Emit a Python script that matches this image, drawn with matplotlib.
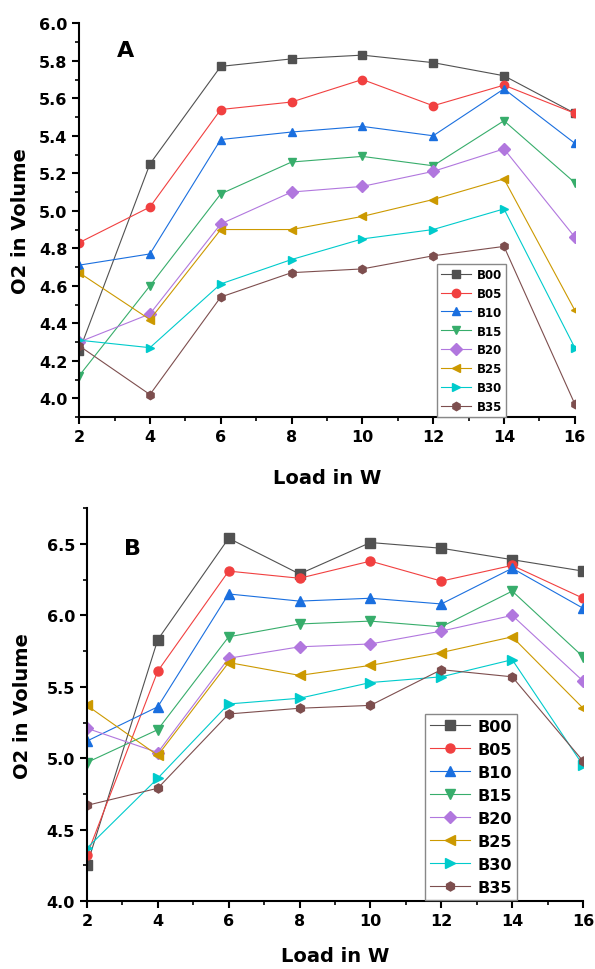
import numpy as np
import matplotlib
matplotlib.use("Agg")
import matplotlib.pyplot as plt
from matplotlib.ticker import MultipleLocator, FormatStrFormatter

plt.rcParams['font.family'] = ['DejaVu Sans']
plt.rcParams['font.weight'] = 'bold'

load = [2, 4, 6, 8, 10, 12, 14, 16]
names = ["B00", "B05", "B10", "B15", "B20", "B25", "B30", "B35"]
colors = ["#515151", "#F14040", "#1A6FDF", "#37AD6B", "#B177DE", "#CC9900", "#00CBCC", "#7D4E4E"]
markers = ["s", "o", "^", "v", "D", "<", ">", "h"]

# panel A
a_b00 = [4.25, 5.25, 5.77, 5.81, 5.83, 5.79, 5.72, 5.52]
a_b05 = [4.83, 5.02, 5.54, 5.58, 5.70, 5.56, 5.67, 5.52]
a_b10 = [4.71, 4.77, 5.38, 5.42, 5.45, 5.40, 5.65, 5.36]
a_b15 = [4.12, 4.60, 5.09, 5.26, 5.29, 5.24, 5.48, 5.15]
a_b20 = [4.30, 4.45, 4.93, 5.10, 5.13, 5.21, 5.33, 4.86]
a_b25 = [4.67, 4.42, 4.90, 4.90, 4.97, 5.06, 5.17, 4.47]
a_b30 = [4.31, 4.27, 4.61, 4.74, 4.85, 4.90, 5.01, 4.27]
a_b35 = [4.28, 4.02, 4.54, 4.67, 4.69, 4.76, 4.81, 3.97]

# panel B
b_b00 = [4.25, 5.83, 6.54, 6.29, 6.51, 6.47, 6.39, 6.31]
b_b05 = [4.32, 5.61, 6.31, 6.26, 6.38, 6.24, 6.35, 6.12]
b_b10 = [5.12, 5.36, 6.15, 6.10, 6.12, 6.08, 6.33, 6.05]
b_b15 = [4.97, 5.20, 5.85, 5.94, 5.96, 5.92, 6.17, 5.71]
b_b20 = [5.21, 5.04, 5.70, 5.78, 5.80, 5.89, 6.00, 5.54]
b_b25 = [5.37, 5.02, 5.67, 5.58, 5.65, 5.74, 5.85, 5.35]
b_b30 = [4.37, 4.86, 5.38, 5.42, 5.53, 5.57, 5.69, 4.95]
b_b35 = [4.67, 4.79, 5.31, 5.35, 5.37, 5.62, 5.57, 4.98]

series_a = [a_b00, a_b05, a_b10, a_b15, a_b20, a_b25, a_b30, a_b35]
series_b = [b_b00, b_b05, b_b10, b_b15, b_b20, b_b25, b_b30, b_b35]

fig = plt.figure(figsize=(5.95, 9.70), dpi=100)
axA = fig.add_axes([0.133, 0.569, 0.833, 0.406])
axB = fig.add_axes([0.146, 0.070, 0.834, 0.405])


def style(ax, ylo, yhi, ymaj, ymin):
    ax.set_xlim(2, 16)
    ax.set_ylim(ylo, yhi)
    ax.xaxis.set_major_locator(MultipleLocator(2))
    ax.xaxis.set_minor_locator(MultipleLocator(1))
    ax.yaxis.set_major_locator(MultipleLocator(ymaj))
    ax.yaxis.set_minor_locator(MultipleLocator(ymin))
    ax.yaxis.set_major_formatter(FormatStrFormatter("%.1f"))
    for s in ("top", "right"):
        ax.spines[s].set_visible(False)
    for s in ("left", "bottom"):
        ax.spines[s].set_linewidth(1.5)
    ax.tick_params(which="major", direction="out", length=5, width=1.5, labelsize=11.5)
    ax.tick_params(which="minor", direction="out", length=3, width=1.2)
    ax.set_xlabel("Load in W", fontsize=14, fontweight="bold")
    ax.set_ylabel("O2 in Volume", fontsize=14, fontweight="bold")


for ys, n, c, m in zip(series_a, names, colors, markers):
    axA.plot(load, ys, color=c, marker=m, markersize=6, linewidth=0.8, label=n)
style(axA, 3.9, 6.0, 0.2, 0.1)
axA.text(3.3, 5.86, "A", fontsize=16, fontweight="bold", ha="center", va="center")
axA.yaxis.set_label_coords(-0.10, 0.5)
axA.xaxis.set_label_coords(0.5, -0.13)
legA = axA.legend(loc="upper left", bbox_to_anchor=(0.722, 0.388), borderaxespad=0,
                  fancybox=False, edgecolor="#888888", framealpha=1,
                  prop={"size": 8.5, "weight": "bold"}, handlelength=2.6,
                  labelspacing=0.5, borderpad=0.3, handletextpad=0.5)
legA.get_frame().set_linewidth(1.0)

for ys, n, c, m in zip(series_b, names, colors, markers):
    axB.plot(load, ys, color=c, marker=m, markersize=6.5, linewidth=0.8, label=n)
style(axB, 4.0, 6.75, 0.5, 0.25)
axB.text(3.3, 6.47, "B", fontsize=16, fontweight="bold", ha="center", va="center")
axB.yaxis.set_label_coords(-0.11, 0.5)
axB.xaxis.set_label_coords(0.5, -0.115)
legB = axB.legend(loc="upper left", bbox_to_anchor=(0.681, 0.476), borderaxespad=0,
                  fancybox=False, edgecolor="#888888", framealpha=1,
                  prop={"size": 11.5, "weight": "bold"}, handlelength=2.5,
                  labelspacing=0.5, borderpad=0.3, handletextpad=0.5)
legB.get_frame().set_linewidth(1.0)

fig.savefig("out.png", dpi=100)
